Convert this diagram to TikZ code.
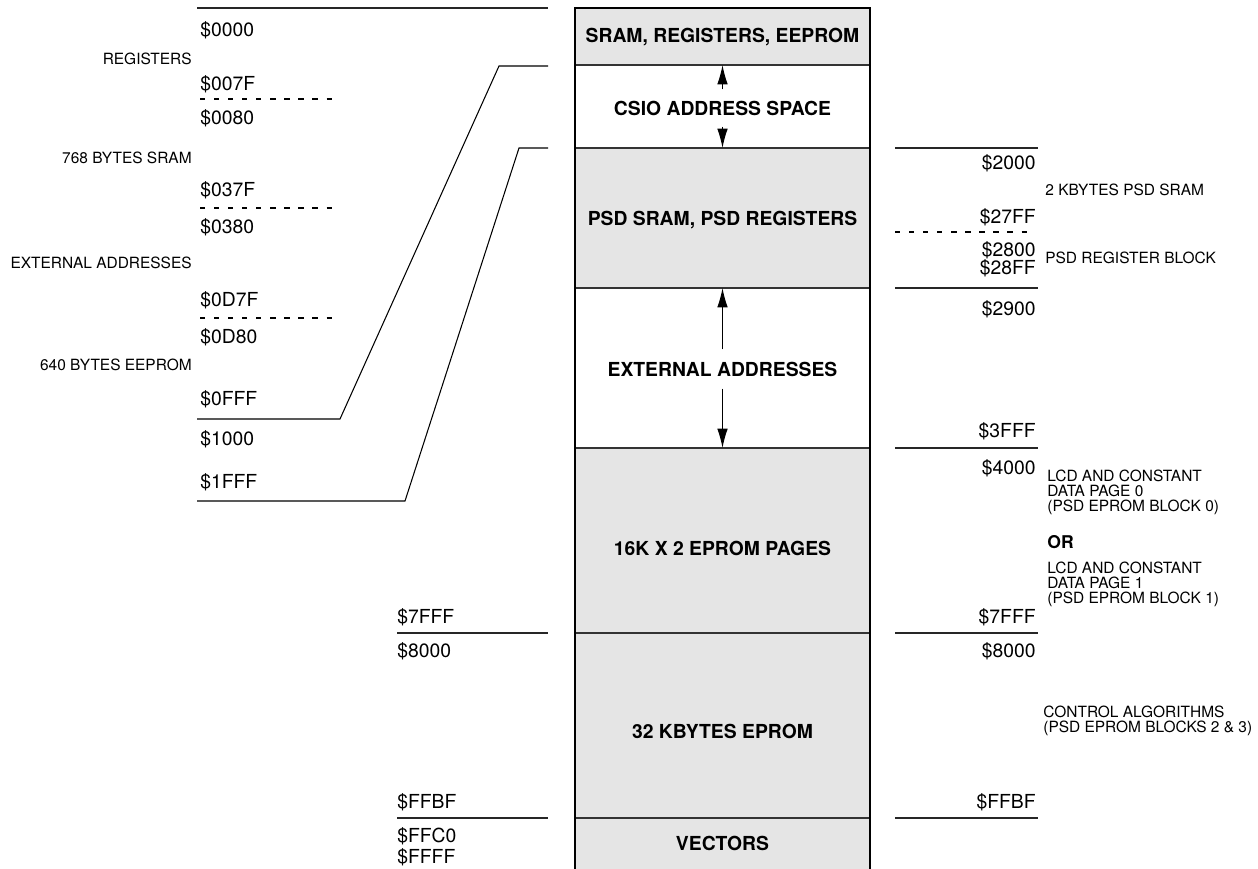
\documentclass[tikz,border=0pt]{standalone}
\usepackage{fontspec}
\setmainfont{TeX Gyre Heros}
\usepackage{xcolor}
\usepackage{tikz}
\usetikzlibrary{
    positioning,
    arrows.meta,
    calc
}
\definecolor{blockGray}{RGB}{229, 229, 229}

\begin{document}
\begin{tikzpicture}[x=0.02cm, y=-0.02cm,
        addr/.style={inner sep=0pt, font=\fontsize{11}{12}\selectfont},
        note/.style={inner sep=0pt, align=left, font=\fontsize{8.8}{8.6}\selectfont},
        blocktext/.style={inner sep=0pt, font=\bfseries\fontsize{11}{12}\selectfont},
        divider/.style={line width=0.9pt, black!80},
        boxside/.style={line width=1.4pt},
        tick/.style={line width=0.8pt, black!85},
        slant/.style={line width=0.6pt},
        dashline/.style={line width=0.6pt, dash pattern=on 3pt off 5pt},
        arrowline/.style={line width=0.6pt, -{Latex[length=11pt, width=6pt]}}]
            \useasboundingbox (0,0) rectangle (1258,869);

            \coordinate (TL) at (575,8);
            \coordinate (TR) at (870,8);
            \coordinate (BL) at (575,869);
            \coordinate (BR) at (870,869);
            \coordinate (D1) at (575,65);
            \coordinate (D2) at (575,148);
            \coordinate (D3) at (575,288);
            \coordinate (D4) at (575,448);

            \fill[blockGray] (TL) rectangle (870,65);
            \fill[blockGray] (D2) rectangle (870,288);
            \fill[blockGray] (D4) rectangle (BR);
            \foreach \y in {65,148,288,448,633,818}
                \draw[divider] (575,\y) -- (870,\y);
            \draw[boxside] (BL) -- (TL) -- (TR) -- (BR);

            \node[blocktext] (sram) at (722.5,37) {SRAM, REGISTERS, EEPROM};
            \node[blocktext] (csio) at (722.5,108) {CSIO ADDRESS SPACE};
            \node[blocktext] (psd) at (722.5,220) {PSD SRAM, PSD REGISTERS};
            \node[blocktext] (ext) at (722.5,369) {EXTERNAL ADDRESSES};
            \node[blocktext] (pages) at (722.5,548) {16K X 2 EPROM PAGES};
            \node[blocktext] (eprom) at (722.5,731) {32 KBYTES EPROM};
            \node[blocktext] (vect) at (722.5,843) {VECTORS};

            \draw[arrowline] ([yshift=6.3pt]csio.north) -- (csio.north |- D1);
            \draw[arrowline] ([yshift=-6.3pt]csio.south) -- (csio.south |- D2);
            \draw[arrowline] ([yshift=6.8pt]ext.north) -- (ext.north |- D3);
            \draw[arrowline] ([yshift=-6.8pt]ext.south) -- (ext.south |- D4);

            % left side
            \draw[tick] (197,8) -- (548,8);
            \draw[dashline] (200,99) -- (335,99);
            \draw[dashline] (200,208) -- (335,208);
            \draw[dashline] (200,318) -- (335,318);
            \draw[slant] (197,419) -- (340,419) -- (499,66) -- (548,66);
            \draw[slant] (197,501) -- (405,501) -- (519,148) -- (548,148);

            \node[addr, anchor=west] (a0000) at (200,30) {\$0000};
            \node[note, anchor=east] (regs) at (192,59) {REGISTERS};
            \node[addr, anchor=west] (a007F) at (200,84) {\$007F};
            \node[addr, anchor=west] (a0080) at (200,118) {\$0080};
            \node[note, anchor=east] (sram768) at (192,158) {768 BYTES SRAM};
            \node[addr, anchor=west] (a037F) at (200,190) {\$037F};
            \node[addr, anchor=west] (a0380) at (200,227) {\$0380};
            \node[note, anchor=east] (extl) at (192,263) {EXTERNAL ADDRESSES};
            \node[addr, anchor=west] (a0D7F) at (200,300) {\$0D7F};
            \node[addr, anchor=west] (a0D80) at (200,337) {\$0D80};
            \node[note, anchor=east] (eep640) at (192,365) {640 BYTES EEPROM};
            \node[addr, anchor=west] (a0FFF) at (200,399) {\$0FFF};
            \node[addr, anchor=west] (a1000) at (200,439) {\$1000};
            \node[addr, anchor=west] (a1FFF) at (200,482) {\$1FFF};

            \draw[tick] (397,633) -- (548,633);
            \draw[tick] (397,818) -- (548,818);
            \node[addr, anchor=west] (l7FFF) at (397,617) {\$7FFF};
            \node[addr, anchor=west] (l8000) at (397,651) {\$8000};
            \node[addr, anchor=west] (lFFBF) at (397,802) {\$FFBF};
            \node[addr, anchor=west] (lFFC0) at (397,836) {\$FFC0};
            \node[addr, anchor=west] (lFFFF) at (397,857) {\$FFFF};

            % right side
            \foreach \y in {148,288,448,633,818}
                \draw[tick] (895,\y) -- (1038,\y);
            \draw[dashline] (895,232) -- (1032,232);

            \node[addr, anchor=east] (r2000) at (1036,163) {\$2000};
            \node[note, anchor=west] (psdsram) at (1045,190) {2 KBYTES PSD SRAM};
            \node[addr, anchor=east] (r27FF) at (1036,217) {\$27FF};
            \node[addr, anchor=east] (r2800) at (1036,250) {\$2800};
            \node[note, anchor=west] (psdreg) at (1045,258) {PSD REGISTER BLOCK};
            \node[addr, anchor=east] (r28FF) at (1036,268) {\$28FF};
            \node[addr, anchor=east] (r2900) at (1036,309) {\$2900};
            \node[addr, anchor=east] (r3FFF) at (1036,431) {\$3FFF};
            \node[addr, anchor=east] (r4000) at (1036,468) {\$4000};
            \node[note, anchor=west] (page0) at (1047,492) {LCD AND CONSTANT\\DATA PAGE 0\\(PSD EPROM BLOCK 0)};
            \node[inner sep=0pt, anchor=west, font=\bfseries\fontsize{10}{12}\selectfont] (orl) at (1047,542) {OR};
            \node[note, anchor=west] (page1) at (1047,584) {LCD AND CONSTANT\\DATA PAGE 1\\(PSD EPROM BLOCK 1)};
            \node[addr, anchor=east] (r7FFF) at (1036,617) {\$7FFF};
            \node[addr, anchor=east] (r8000) at (1036,651) {\$8000};
            \node[note, anchor=west] (ctrl) at (1043,721) {CONTROL ALGORITHMS\\(PSD EPROM BLOCKS 2 \& 3)};
            \node[addr, anchor=east] (rFFBF) at (1036,802) {\$FFBF};
\end{tikzpicture}
\end{document}
